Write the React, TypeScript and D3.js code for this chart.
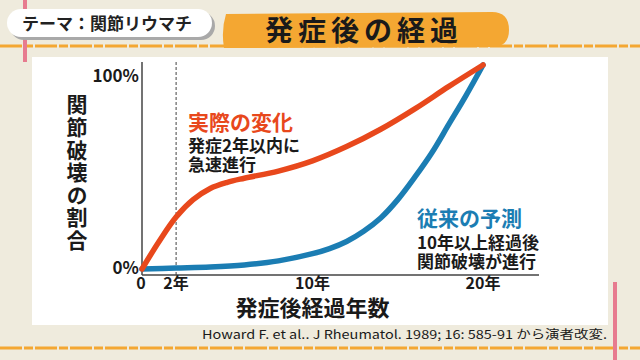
import { useMemo } from 'react'
import * as d3 from 'd3'

// (years since onset, % joint destruction)
const actualYears = [0, 1, 2, 3, 4, 5, 6, 8, 10, 12, 14, 16, 18, 20]
const actualValues = [0, 13.5, 25.5, 34, 39.5, 42.5, 44.5, 48, 53, 60, 68.5, 78.5, 89.5, 100]
const predictedYears = [0, 2, 4, 6, 8, 10, 11, 12, 13, 14, 15, 16, 17, 18, 19, 20]
const predictedValues = [0, 0.5, 1, 2, 4, 7.5, 10, 13.5, 18.5, 25, 34, 45, 57, 71, 85, 100]

const xTicks = [0, 2, 10, 20]
const xTickLabels = ['0', '2年', '10年', '20年']
const yTicks = [0, 100]
const yTickLabels = ['0%', '100%']

const yTitle = '関節破壊の割合'
const xTitle = '発症後経過年数'

const FONT = '"Noto Sans CJK JP", "Noto Sans", sans-serif'
const RED = '#e8481c'
const BLUE = '#1b7db3'
const ORANGE = '#f4a732'
const INK = '#1a1a1a'

export default function App() {
  const W = 640
  const H = 360

  const x = d3.scaleLinear().domain([0, 20]).range([142, 483])
  const y = d3.scaleLinear().domain([0, 100]).range([269, 65])

  const line = useMemo(
    () =>
      d3
        .line<[number, number]>()
        .x(d => x(d[0]))
        .y(d => y(d[1]))
        .curve(d3.curveCatmullRom.alpha(0.5)),
    []
  )

  const actualPath = line(actualYears.map((v, i) => [v, actualValues[i]]))
  const predictedPath = line(predictedYears.map((v, i) => [v, predictedValues[i]]))

  const axisY = 275

  return (
    <svg
      width={W}
      height={H}
      style={{ position: 'fixed', left: 0, top: 0 }}
      fontFamily={FONT}
    >
      {/* background */}
      <rect width={W} height={H} fill="#efebdd" />

      {/* orange dashed rules */}
      <line x1={0} x2={W} y1={46} y2={46} stroke={ORANGE} strokeWidth={3} strokeDasharray="22 2 9 2" />
      <line x1={0} x2={W} y1={348} y2={348} stroke={ORANGE} strokeWidth={3} strokeDasharray="22 2 9 2" />

      {/* pink margin lines */}
      <line x1={25} x2={25} y1={0} y2={62} stroke="#e77b8f" strokeWidth={4} />
      <line x1={615} x2={615} y1={282} y2={H} stroke="#e77b8f" strokeWidth={4} />

      {/* white panel */}
      <rect x={32} y={57} width={576} height={268} fill="#ffffff" />

      {/* theme pill */}
      <rect x={10} y={12} width={205} height={28} rx={14} fill="#a9a9a9" />
      <rect x={7} y={9} width={205} height={28} rx={14} fill="#ffffff" />
      <text x={22} y={30} fontSize={17} fontWeight={700} fill="#222">
        テーマ：関節リウマチ
      </text>

      {/* title banner */}
      <path
        d="M226,14 L492,12 Q509,12 509,30 Q509,47 492,47 L224,48 Q221,30 226,14 Z"
        fill={ORANGE}
      />
      <text x={364} y={41} fontSize={28} fontWeight={700} fill={INK} textAnchor="middle" letterSpacing={5}>
        発症後の経過
      </text>

      {/* axes */}
      <line x1={x(0)} x2={x(0)} y1={62} y2={axisY} stroke="#444" strokeWidth={1.5} />
      <line x1={x(0)} x2={539} y1={axisY} y2={axisY} stroke="#444" strokeWidth={1.5} />
      <line x1={x(2)} x2={x(2)} y1={62} y2={axisY} stroke="#444" strokeWidth={1} strokeDasharray="3 2" />

      {yTicks.map((t, i) => (
        <text
          key={t}
          x={x(0) - 3}
          y={i === 0 ? y(t) + 5 : y(t) + 17}
          fontSize={17}
          fontWeight={700}
          textAnchor="end"
          fill={INK}
        >
          {yTickLabels[i]}
        </text>
      ))}

      {xTicks.map((t, i) => (
        <text
          key={t}
          x={i === 0 ? x(t) - 1 : x(t)}
          y={289}
          fontSize={16}
          fontWeight={700}
          textAnchor="middle"
          fill={INK}
        >
          {xTickLabels[i]}
        </text>
      ))}

      {/* axis titles */}
      <text
        x={77}
        y={94}
        fontSize={21}
        fontWeight={700}
        fill={INK}
        style={{ writingMode: 'vertical-rl', letterSpacing: '1.6px' }}
      >
        {yTitle}
      </text>
      <text x={x(10)} y={316} fontSize={22} fontWeight={700} textAnchor="middle" fill={INK}>
        {xTitle}
      </text>

      {/* curves */}
      <path d={predictedPath ?? ''} fill="none" stroke={BLUE} strokeWidth={5.5} strokeLinecap="round" />
      <path d={actualPath ?? ''} fill="none" stroke={RED} strokeWidth={5.5} strokeLinecap="round" />

      {/* annotations */}
      <text x={188} y={130} fontSize={21} fontWeight={700} fill={RED}>実際の変化</text>
      <text x={188} y={152} fontSize={17} fontWeight={700} fill={INK}>発症2年以内に</text>
      <text x={188} y={171} fontSize={17} fontWeight={700} fill={INK}>急速進行</text>

      <text x={417} y={226} fontSize={21} fontWeight={700} fill={BLUE}>従来の予測</text>
      <text x={417} y={249} fontSize={17} fontWeight={700} fill={INK}>10年以上経過後</text>
      <text x={417} y={268} fontSize={17} fontWeight={700} fill={INK}>関節破壊が進行</text>

      {/* citation */}
      <text
        x={607}
        y={339}
        fontSize={12}
        textAnchor="end"
        fill={INK}
        textLength={405}
        lengthAdjust="spacingAndGlyphs"
      >
        Howard F. et al.. J Rheumatol. 1989; 16: 585-91 から演者改変.
      </text>
    </svg>
  )
}
